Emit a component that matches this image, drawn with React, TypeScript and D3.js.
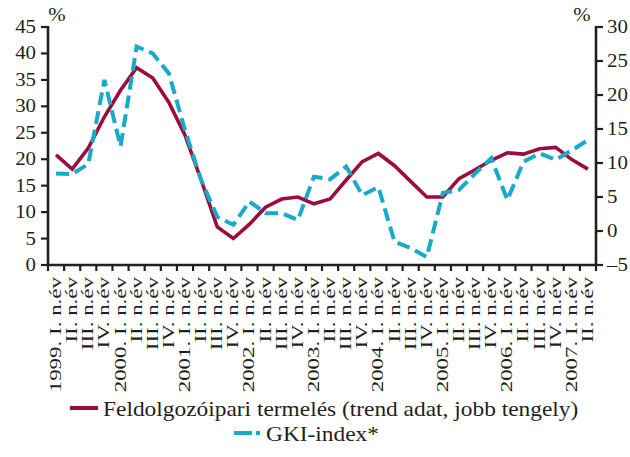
import React from "react";
import * as d3 from "d3";

const years = ["1999.", "2000.", "2001.", "2002.", "2003.", "2004.", "2005.", "2006.", "2007."];
const quarterNames = ["I. n.év", "II. n.év", "III. n.év", "IV. n.év"];

const categories: string[] = [];
years.forEach((y, yi) => {
  quarterNames.forEach((q, qi) => {
    if (yi === years.length - 1 && qi > 1) return;
    categories.push(qi === 0 ? `${y} ${q}` : q);
  });
});

// Feldolgozóipari termelés (trend adat, jobb tengely) – right axis
const production = [
  11.2, 9.1, 12.2, 16.8, 20.7, 24.0, 22.5, 18.9,
  14.1, 7.5, 0.6, -1.1, 1.0, 3.5, 4.7, 5.0,
  4.0, 4.7, 7.5, 10.2, 11.4, 9.6, 7.3, 5.0,
  5.0, 7.7, 9.0, 10.4, 11.5, 11.3, 12.1, 12.3,
  10.5, 9.1,
];

// GKI-index* – left axis
const gki = [
  17.3, 17.2, 19.1, 35.0, 22.4, 41.3, 40.0, 36.2,
  25.5, 16.1, 9.1, 7.6, 12.0, 9.8, 9.8, 8.5,
  16.7, 16.2, 18.6, 13.2, 14.7, 4.4, 3.2, 1.5,
  13.6, 14.2, 17.3, 20.2, 12.3, 19.5, 21.1, 19.9,
  21.7, 23.6,
];

const leftTicks = [0, 5, 10, 15, 20, 25, 30, 35, 40, 45];
const rightTicks = [-5, 0, 5, 10, 15, 20, 25, 30];

const legendItems = [
  "Feldolgozóipari termelés (trend adat, jobb tengely)",
  "GKI-index*",
];

const W = 630;
const H = 457;
const M = { left: 48, right: 596, top: 27, bottom: 265 };
const RED = "#9b0d3c";
const BLUE = "#1aa9c9";
const INK = "#231f20";
const FONT = "'Liberation Serif', 'Times New Roman', serif";
const SX = 1.16;
const SXL = 1.35;

export default function App() {
  const idx = d3.range(categories.length);
  const x = d3
    .scaleBand<number>()
    .domain(idx)
    .range([M.left, M.right])
    .paddingInner(0)
    .paddingOuter(0);
  const yL = d3.scaleLinear().domain([0, 45]).range([M.bottom, M.top]);
  const yR = d3.scaleLinear().domain([-5, 30]).range([M.bottom, M.top]);
  const cx = (i: number) => (x(i) as number) + x.bandwidth() / 2;

  const redLine = d3
    .line<number>()
    .x((_, i) => cx(i))
    .y((d) => yR(d))(production) as string;
  const blueLine = d3
    .line<number>()
    .x((_, i) => cx(i))
    .y((d) => yL(d))(gki) as string;

  const boundaries = idx.map((i) => x(i) as number).concat([M.right]);

  return (
    <svg width={W} height={H} style={{ display: "block", position: "absolute", left: 0, top: 0 }}>
      <rect width={W} height={H} fill="#fff" />
      {/* data lines */}
      <path d={redLine} fill="none" stroke={RED} strokeWidth={3.6} strokeLinejoin="miter" />
      <path
        d={blueLine}
        fill="none"
        stroke={BLUE}
        strokeWidth={4}
        strokeDasharray="13 6"
        strokeLinejoin="miter"
      />
      {/* axes */}
      <line x1={M.left} x2={M.left} y1={M.top - 1} y2={M.bottom} stroke={INK} strokeWidth={2.6} />
      <line x1={M.right} x2={M.right} y1={M.top - 1} y2={M.bottom} stroke={INK} strokeWidth={2.6} />
      <line x1={M.left} x2={M.right} y1={M.bottom} y2={M.bottom} stroke={INK} strokeWidth={2.6} />
      {leftTicks.map((t) => (
        <g key={"l" + t}>
          <line x1={M.left - 7} x2={M.left} y1={yL(t)} y2={yL(t)} stroke={INK} strokeWidth={2.2} />
          <text
            transform={`translate(${M.left - 12},${yL(t) + 6}) scale(${SX},1)`}
            textAnchor="end"
            fontFamily={FONT}
            fontSize={18}
            fill={INK}
          >
            {t}
          </text>
        </g>
      ))}
      {rightTicks.map((t) => (
        <g key={"r" + t}>
          <line x1={M.right} x2={M.right + 7} y1={yR(t)} y2={yR(t)} stroke={INK} strokeWidth={2.2} />
          <text
            transform={`translate(${M.right + 11},${yR(t) + 6}) scale(${SX},1)`}
            textAnchor="start"
            fontFamily={FONT}
            fontSize={18}
            fill={INK}
          >
            {t < 0 ? "\u2013" + Math.abs(t) : t}
          </text>
        </g>
      ))}
      {boundaries.map((b, i) => (
        <line key={"xt" + i} x1={b} x2={b} y1={M.bottom} y2={M.bottom + 6} stroke={INK} strokeWidth={2.2} />
      ))}
      {categories.map((c, i) => (
        <text
          key={"xl" + i}
          transform={`translate(${cx(i) + 5},${M.bottom + 12}) rotate(-90) scale(${SXL},1)`}
          textAnchor="end"
          fontFamily={FONT}
          fontSize={17}
          fill={INK}
        >
          {c}
        </text>
      ))}
      <text
        transform={`translate(57,21) scale(${SX},1)`}
        textAnchor="middle"
        fontFamily={FONT}
        fontSize={18}
        fill={INK}
      >
        %
      </text>
      <text
        transform={`translate(582,21) scale(${SX},1)`}
        textAnchor="middle"
        fontFamily={FONT}
        fontSize={18}
        fill={INK}
      >
        %
      </text>
      {/* legend */}
      <line x1={70} x2={98} y1={408} y2={408} stroke={RED} strokeWidth={4} />
      <text
        transform={`translate(103,416) scale(1.17,1)`}
        fontFamily={FONT}
        fontSize={20}
        fill={INK}
      >
        {legendItems[0]}
      </text>
      <line x1={234} x2={262} y1={433} y2={433} stroke={BLUE} strokeWidth={4} strokeDasharray="18 4 4 10" />
      <text
        transform={`translate(266,441) scale(1.17,1)`}
        fontFamily={FONT}
        fontSize={20}
        fill={INK}
      >
        {legendItems[1]}
      </text>
    </svg>
  );
}
